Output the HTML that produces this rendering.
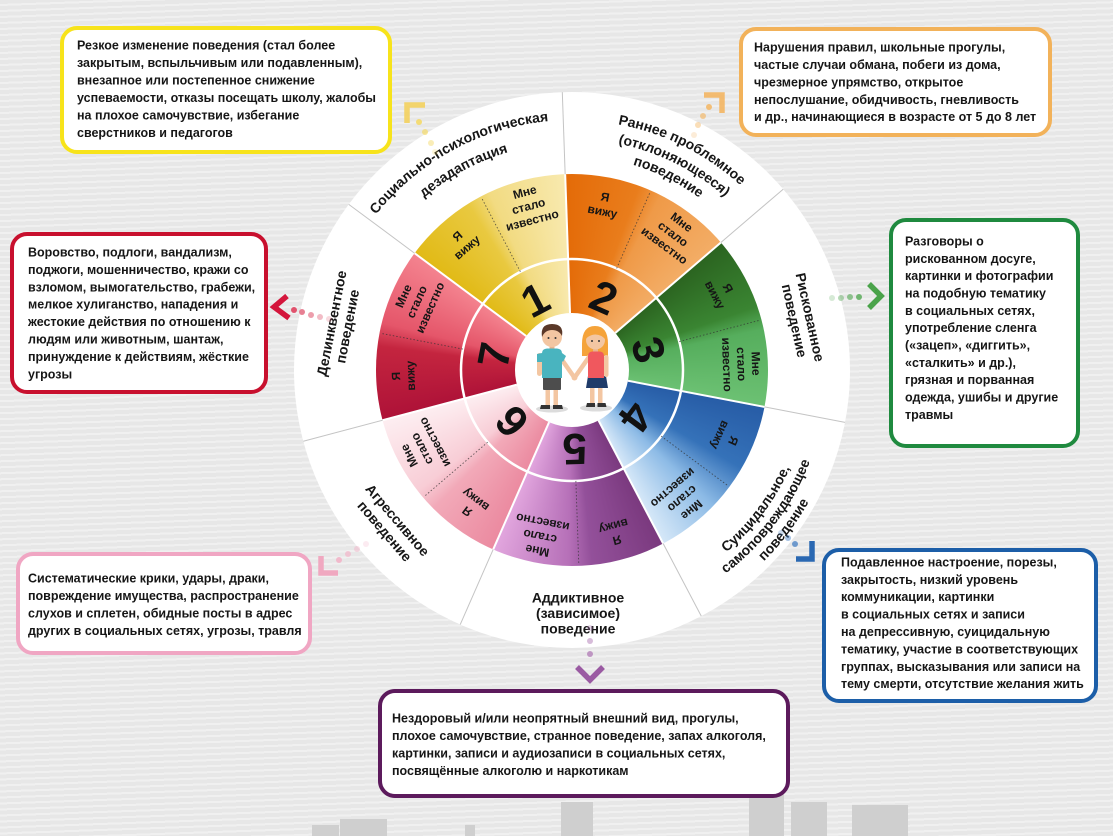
<!DOCTYPE html>
<html><head><meta charset="utf-8">
<style>
html,body{margin:0;padding:0;}
body{width:1113px;height:836px;overflow:hidden;position:relative;
background:repeating-linear-gradient(178deg,#e7e7e7 0px,#e7e7e7 4px,#f0f0f0 4px,#f0f0f0 6px);}
#outer{position:absolute;left:294px;top:92px;width:556px;height:556px;border-radius:50%;background:#fff;}
#ring{position:absolute;left:376px;top:174px;width:392px;height:392px;border-radius:50%;
background:conic-gradient(from -2deg at 50% 50%,
 #e46b08 0deg,#e97d1c 22deg,#ef9a48 29deg,#f3ad66 51.43deg,
 #2b6420 51.43deg,#3a8532 73deg,#56ae5d 80deg,#6cc173 102.86deg,
 #275ca6 102.86deg,#3572b9 122deg,#8dbbe6 136deg,#d6e8f8 154.29deg,
 #7a397e 154.29deg,#93509a 176deg,#b670b8 183deg,#e2a6de 205.71deg,
 #eb8aa0 205.71deg,#f2a9b8 227deg,#f8cdd6 234deg,#fdeef1 257.14deg,
 #ae1238 257.14deg,#c4253f 279deg,#e5566a 286deg,#f4838f 308.57deg,
 #e1ba16 308.57deg,#e9c940 330deg,#f2db82 337deg,#f8e9ae 360deg);}
svg{position:absolute;left:0;top:0;}
text{font-family:"Liberation Sans",Arial,sans-serif;font-weight:bold;fill:#161616;}
.bx{font-size:12.5px;}
.ol{font-size:14px;}
.il{font-size:12px;text-anchor:middle;}
.num{font-size:44px;text-anchor:middle;fill:#111;}
</style></head>
<body>
<div id="outer"></div>
<div id="ring"></div>
<svg width="1113" height="836" viewBox="0 0 1113 836" xmlns="http://www.w3.org/2000/svg">
<defs>
 <path id="aT250" d="M 355.49 245 A 250 250 0 0 1 788.51 245"/>
 <path id="aT227" d="M 375.41 256.5 A 227 227 0 0 1 768.59 256.5"/>
 <path id="aT231" d="M 371.95 254.5 A 231 231 0 0 1 772.05 254.5"/>
 <path id="aT214" d="M 386.67 263 A 214 214 0 0 1 757.33 263"/>
 <path id="aB239" d="M 365.02 489.5 A 239 239 0 0 0 778.98 489.5"/>
 <path id="aB255" d="M 351.16 497.5 A 255 255 0 0 0 792.84 497.5"/>
 <path id="aB271" d="M 337.31 505.5 A 271 271 0 0 0 806.69 505.5"/>
</defs>

<!-- buildings -->
<g fill="#cfcfcf">
 <rect x="312" y="825" width="27" height="11"/>
 <rect x="340" y="819" width="47" height="17"/>
 <rect x="465" y="825" width="10" height="11"/>
 <rect x="561" y="802" width="32" height="34"/>
 <rect x="749" y="780" width="35" height="56"/>
 <rect x="791" y="802" width="36" height="34"/>
 <rect x="852" y="805" width="56" height="31"/>
</g>

<!-- center white circle and ring line -->
<circle cx="572" cy="370" r="111" fill="none" stroke="#fff" stroke-width="2.5"/>
<g stroke="#fff" stroke-width="2">
 <line x1="572" y1="313" x2="572" y2="174" transform="rotate(-2 572 370)"/>
 <line x1="572" y1="313" x2="572" y2="174" transform="rotate(49.43 572 370)"/>
 <line x1="572" y1="313" x2="572" y2="174" transform="rotate(100.86 572 370)"/>
 <line x1="572" y1="313" x2="572" y2="174" transform="rotate(152.29 572 370)"/>
 <line x1="572" y1="313" x2="572" y2="174" transform="rotate(203.71 572 370)"/>
 <line x1="572" y1="313" x2="572" y2="174" transform="rotate(255.14 572 370)"/>
 <line x1="572" y1="313" x2="572" y2="174" transform="rotate(306.57 572 370)"/>
</g>
<g stroke="#c4c4c4" stroke-width="1">
 <line x1="572" y1="174" x2="572" y2="92" transform="rotate(-2 572 370)"/>
 <line x1="572" y1="174" x2="572" y2="92" transform="rotate(49.43 572 370)"/>
 <line x1="572" y1="174" x2="572" y2="92" transform="rotate(100.86 572 370)"/>
 <line x1="572" y1="174" x2="572" y2="92" transform="rotate(152.29 572 370)"/>
 <line x1="572" y1="174" x2="572" y2="92" transform="rotate(203.71 572 370)"/>
 <line x1="572" y1="174" x2="572" y2="92" transform="rotate(255.14 572 370)"/>
 <line x1="572" y1="174" x2="572" y2="92" transform="rotate(306.57 572 370)"/>
</g>
<g stroke="#333" stroke-width="0.9" stroke-dasharray="1.5 2" opacity="0.75">
 <line x1="572" y1="259" x2="572" y2="175" transform="rotate(23.71 572 370)"/>
 <line x1="572" y1="259" x2="572" y2="175" transform="rotate(75.14 572 370)"/>
 <line x1="572" y1="259" x2="572" y2="175" transform="rotate(126.57 572 370)"/>
 <line x1="572" y1="259" x2="572" y2="175" transform="rotate(178 572 370)"/>
 <line x1="572" y1="259" x2="572" y2="175" transform="rotate(229.43 572 370)"/>
 <line x1="572" y1="259" x2="572" y2="175" transform="rotate(280.86 572 370)"/>
 <line x1="572" y1="259" x2="572" y2="175" transform="rotate(332.29 572 370)"/>
</g>
<circle cx="572" cy="370" r="57" fill="#fff"/>

<!-- numbers -->
<text class="num" x="572" y="306" transform="rotate(-27.71 572 370)">1</text>
<text class="num" x="572" y="306" transform="rotate(23.71 572 370)">2</text>
<text class="num" x="572" y="306" transform="rotate(75.14 572 370)">3</text>
<text class="num" x="572" y="306" transform="rotate(126.57 572 370)">4</text>
<text class="num" x="572" y="306" transform="rotate(178 572 370)">5</text>
<text class="num" x="572" y="306" transform="rotate(229.43 572 370)">6</text>
<text class="num" x="572" y="306" transform="rotate(280.86 572 370)">7</text>

<!-- inner labels: Я вижу -->
<g class="il">
 <text class="il" transform="rotate(-40.57 572 370)"><tspan x="572" y="198">Я</tspan><tspan x="572" y="212.5">вижу</tspan></text>
 <text class="il" transform="rotate(10.86 572 370)"><tspan x="572" y="198">Я</tspan><tspan x="572" y="212.5">вижу</tspan></text>
 <text class="il" transform="rotate(62.29 572 370)"><tspan x="572" y="198">Я</tspan><tspan x="572" y="212.5">вижу</tspan></text>
 <text class="il" transform="rotate(113.71 572 370)"><tspan x="572" y="198">Я</tspan><tspan x="572" y="212.5">вижу</tspan></text>
 <text class="il" transform="rotate(165.14 572 370)"><tspan x="572" y="198">Я</tspan><tspan x="572" y="212.5">вижу</tspan></text>
 <text class="il" transform="rotate(216.57 572 370)"><tspan x="572" y="198">Я</tspan><tspan x="572" y="212.5">вижу</tspan></text>
 <text class="il" transform="rotate(268 572 370)"><tspan x="572" y="198">Я</tspan><tspan x="572" y="212.5">вижу</tspan></text>
</g>
<!-- inner labels: Мне стало известно -->
<g>
 <text class="il" transform="rotate(-14.86 572 370)"><tspan x="572" y="190">Мне</tspan><tspan x="572" y="204.5">стало</tspan><tspan x="572" y="219">известно</tspan></text>
 <text class="il" transform="rotate(36.57 572 370)"><tspan x="572" y="190">Мне</tspan><tspan x="572" y="204.5">стало</tspan><tspan x="572" y="219">известно</tspan></text>
 <text class="il" transform="rotate(88 572 370)"><tspan x="572" y="190">Мне</tspan><tspan x="572" y="204.5">стало</tspan><tspan x="572" y="219">известно</tspan></text>
 <text class="il" transform="rotate(139.43 572 370)"><tspan x="572" y="190">Мне</tspan><tspan x="572" y="204.5">стало</tspan><tspan x="572" y="219">известно</tspan></text>
 <text class="il" transform="rotate(190.86 572 370)"><tspan x="572" y="190">Мне</tspan><tspan x="572" y="204.5">стало</tspan><tspan x="572" y="219">известно</tspan></text>
 <text class="il" transform="rotate(242.29 572 370)"><tspan x="572" y="190">Мне</tspan><tspan x="572" y="204.5">стало</tspan><tspan x="572" y="219">известно</tspan></text>
 <text class="il" transform="rotate(293.71 572 370)"><tspan x="572" y="190">Мне</tspan><tspan x="572" y="204.5">стало</tspan><tspan x="572" y="219">известно</tspan></text>
</g>

<!-- outer labels -->
<g transform="rotate(-28.5 572 370)">
 <text class="ol" text-anchor="middle"><textPath href="#aT250" startOffset="50%">Социально-психологическая</textPath></text>
 <text class="ol" text-anchor="middle"><textPath href="#aT227" startOffset="50%">дезадаптация</textPath></text>
</g>
<g transform="rotate(26.5 572 370)">
 <text class="ol" text-anchor="middle"><textPath href="#aT250" startOffset="50%">Раннее проблемное</textPath></text>
 <text class="ol" text-anchor="middle"><textPath href="#aT231" startOffset="50%">(отклоняющееся)</textPath></text>
 <text class="ol" text-anchor="middle"><textPath href="#aT214" startOffset="50%">поведение</textPath></text>
</g>
<g transform="rotate(77.5 572 370)">
 <text class="ol" x="572" y="131" text-anchor="middle">Рискованное</text>
 <text class="ol" x="572" y="147" text-anchor="middle">поведение</text>
</g>
<g transform="rotate(-53 572 370)">
 <text class="ol" text-anchor="middle"><textPath href="#aB239" startOffset="50%">Суицидальное,</textPath></text>
 <text class="ol" text-anchor="middle"><textPath href="#aB255" startOffset="50%">самоповреждающее</textPath></text>
 <text class="ol" text-anchor="middle"><textPath href="#aB271" startOffset="50%">поведение</textPath></text>
</g>
<g>
 <text class="ol" x="578" y="602.5" text-anchor="middle">Аддиктивное</text>
 <text class="ol" x="578" y="618" text-anchor="middle">(зависимое)</text>
 <text class="ol" x="578" y="633.5" text-anchor="middle">поведение</text>
</g>
<g transform="rotate(49.3 572 370)">
 <text class="ol" x="572" y="605" text-anchor="middle">Агрессивное</text>
 <text class="ol" x="572" y="622" text-anchor="middle">поведение</text>
</g>
<g transform="rotate(281 572 370)">
 <text class="ol" x="572" y="130" text-anchor="middle">Делинквентное</text>
 <text class="ol" x="572" y="146" text-anchor="middle">поведение</text>
</g>

<!-- kids -->
<g>
 <ellipse cx="552" cy="409" rx="16" ry="3.5" fill="#dcdcdc"/>
 <ellipse cx="596" cy="408" rx="16" ry="3.5" fill="#dcdcdc"/>
 <!-- boy -->
 <rect x="545.5" y="388" width="4.5" height="18" fill="#f3c6a2"/>
 <rect x="553.5" y="388" width="4.5" height="18" fill="#f3c6a2"/>
 <path d="M541 405 h9 v4 h-10 z" fill="#333"/>
 <path d="M553 405 h9 l1 4 h-10 z" fill="#333"/>
 <rect x="543" y="376" width="18" height="14" rx="1" fill="#4d4d4d"/>
 <rect x="537" y="353" width="5" height="23" rx="2.5" fill="#f3c6a2"/>
 <path d="M560 357 L574 377" stroke="#f3c6a2" stroke-width="4.5" stroke-linecap="round"/>
 <rect x="549.5" y="344" width="5" height="7" fill="#e8b48e"/>
 <path d="M542 353 q0-4 5-4.5 h10 q5 0.5 5 4.5 v25 h-20 z" fill="#49b4bf"/>
 <path d="M542 353 l-5 1 v8 h5 z" fill="#49b4bf"/>
 <path d="M562 353 l4 3 l-3 6 l-1 -1 z" fill="#49b4bf"/>
 <circle cx="552" cy="337" r="10" fill="#f3c6a2"/>
 <path d="M542 337 q-2-13 10-13 q12 0 10 12 q-3-6-10-6 q-7 0-10 7z" fill="#5a3828"/>
 <circle cx="548.5" cy="338" r="1" fill="#333"/>
 <circle cx="555.5" cy="338" r="1" fill="#333"/>
 <!-- girl -->
 <path d="M582 344 q0-18 13-18 q13 0 13 18 v12 h-26 z" fill="#f5a33a"/>
 <rect x="590" y="384" width="4.5" height="20" fill="#f3c6a2"/>
 <rect x="598" y="384" width="4.5" height="20" fill="#f3c6a2"/>
 <path d="M587 403 h8 v4 h-9 z" fill="#333"/>
 <path d="M597.5 403 h8 l1 4 h-9 z" fill="#333"/>
 <path d="M588 376 h18 l2 12 h-22 z" fill="#1f3b69"/>
 <path d="M589 357 L575 377" stroke="#f3c6a2" stroke-width="4.5" stroke-linecap="round"/>
 <rect x="604" y="355" width="4.5" height="22" rx="2.2" fill="#f3c6a2"/>
 <rect x="593" y="347" width="5" height="7" fill="#e8b48e"/>
 <path d="M588 356 q0-4 4-4.5 h8 q4 0.5 4 4.5 v22 h-16 z" fill="#f0585e"/>
 <circle cx="595.5" cy="340" r="9.5" fill="#f3c6a2"/>
 <path d="M585 340 q0-12 10.5-12 q10.5 0 10.5 12 q-6-7-14-5 q-4 1-7 5z" fill="#f5a33a"/>
 <circle cx="592" cy="341" r="1" fill="#333"/>
 <circle cx="599" cy="341" r="1" fill="#333"/>
 <circle cx="574.5" cy="377.5" r="3" fill="#f3c6a2"/>
</g>

<!-- arrows -->
<g>
 <!-- yellow -->
 <circle cx="435" cy="152" r="3" fill="#f5d860" opacity="0.25"/>
 <circle cx="431" cy="143" r="3" fill="#f5d860" opacity="0.45"/>
 <circle cx="425" cy="132" r="3" fill="#f5d860" opacity="0.65"/>
 <circle cx="419" cy="122" r="3" fill="#f5d860" opacity="0.85"/>
 <polyline points="425,105 407,105 407,123" fill="none" stroke="#f3cf55" stroke-width="5.5" opacity="0.85"/>
 <!-- orange -->
 <circle cx="694" cy="135" r="3" fill="#f3b562" opacity="0.25"/>
 <circle cx="698" cy="125" r="3" fill="#f3b562" opacity="0.45"/>
 <circle cx="703" cy="116" r="3" fill="#f3b562" opacity="0.65"/>
 <circle cx="709" cy="107" r="3" fill="#f3b562" opacity="0.85"/>
 <polyline points="704,95 722,95 722,113" fill="none" stroke="#f3b562" stroke-width="5.5" opacity="0.9"/>
 <!-- red -->
 <circle cx="329" cy="319" r="3" fill="#e36a80" opacity="0.25"/>
 <circle cx="320" cy="317" r="3" fill="#e36a80" opacity="0.45"/>
 <circle cx="311" cy="315" r="3" fill="#e36a80" opacity="0.65"/>
 <circle cx="302" cy="312" r="3" fill="#e36a80" opacity="0.85"/>
 <circle cx="294" cy="310" r="3" fill="#e04a66" opacity="0.95"/>
 <polyline points="287,296 274,307 289,318" fill="none" stroke="#d4163c" stroke-width="5.5"/>
 <!-- green -->
 <circle cx="832" cy="298" r="3" fill="#5aab5a" opacity="0.25"/>
 <circle cx="841" cy="298" r="3" fill="#5aab5a" opacity="0.45"/>
 <circle cx="850" cy="297" r="3" fill="#5aab5a" opacity="0.65"/>
 <circle cx="859" cy="297" r="3" fill="#5aab5a" opacity="0.85"/>
 <polyline points="869,284 881,296 869,308" fill="none" stroke="#4aa34a" stroke-width="5.5"/>
 <!-- blue -->
 <circle cx="781" cy="533" r="3" fill="#3a78c0" opacity="0.25"/>
 <circle cx="788" cy="538" r="3" fill="#3a78c0" opacity="0.45"/>
 <circle cx="795" cy="544" r="3" fill="#3a78c0" opacity="0.7"/>
 <polyline points="812,541 812,559 796,559" fill="none" stroke="#2a68b2" stroke-width="5.5"/>
 <!-- pink -->
 <circle cx="366" cy="544" r="3" fill="#f2b0c6" opacity="0.25"/>
 <circle cx="357" cy="549" r="3" fill="#f2b0c6" opacity="0.45"/>
 <circle cx="348" cy="554" r="3" fill="#f2b0c6" opacity="0.65"/>
 <circle cx="339" cy="560" r="3" fill="#f2b0c6" opacity="0.85"/>
 <polyline points="321,556 321,573 338,573" fill="none" stroke="#f0a8c0" stroke-width="5.5"/>
 <!-- purple -->
 <circle cx="590" cy="628" r="3" fill="#b07ab6" opacity="0.3"/>
 <circle cx="590" cy="641" r="3" fill="#b07ab6" opacity="0.5"/>
 <circle cx="590" cy="654" r="3" fill="#b07ab6" opacity="0.75"/>
 <polyline points="577,667 590,680 603,667" fill="none" stroke="#9a5aa2" stroke-width="5.5"/>
</g>

<!-- boxes -->
<g fill="#fff" stroke-width="4">
 <rect x="62" y="28" width="328" height="124" rx="15" stroke="#f7e31b"/>
 <rect x="741" y="29" width="309" height="106" rx="15" stroke="#f2b25a"/>
 <rect x="12" y="234" width="254" height="158" rx="15" stroke="#c8102e"/>
 <rect x="891" y="220" width="187" height="226" rx="15" stroke="#1f8a3f"/>
 <rect x="824" y="550" width="272" height="151" rx="15" stroke="#1c5ea8"/>
 <rect x="18" y="554" width="292" height="99" rx="15" stroke="#f0a6c3"/>
 <rect x="380" y="691" width="408" height="105" rx="15" stroke="#5c1a5c"/>
</g>

<g class="bx">
 <text class="bx" x="77" y="49.5">Резкое изменение поведения (стал более</text>
 <text class="bx" x="77" y="67">закрытым, вспыльчивым или подавленным),</text>
 <text class="bx" x="77" y="84.5">внезапное или постепенное снижение</text>
 <text class="bx" x="77" y="102">успеваемости, отказы посещать школу, жалобы</text>
 <text class="bx" x="77" y="119.5">на плохое самочувствие, избегание</text>
 <text class="bx" x="77" y="137">сверстников и педагогов</text>

 <text class="bx" x="754" y="51.5">Нарушения правил, школьные прогулы,</text>
 <text class="bx" x="754" y="69">частые случаи обмана, побеги из дома,</text>
 <text class="bx" x="754" y="86.5">чрезмерное упрямство, открытое</text>
 <text class="bx" x="754" y="104">непослушание, обидчивость, гневливость</text>
 <text class="bx" x="754" y="121">и др., начинающиеся в возрасте от 5 до 8 лет</text>

 <text class="bx" x="28" y="256.5">Воровство, подлоги, вандализм,</text>
 <text class="bx" x="28" y="274">поджоги, мошенничество, кражи со</text>
 <text class="bx" x="28" y="291.3">взломом, вымогательство, грабежи,</text>
 <text class="bx" x="28" y="308.7">мелкое хулиганство, нападения и</text>
 <text class="bx" x="28" y="326">жестокие действия по отношению к</text>
 <text class="bx" x="28" y="343.5">людям или животным, шантаж,</text>
 <text class="bx" x="28" y="361">принуждение к действиям, жёсткие</text>
 <text class="bx" x="28" y="378.3">угрозы</text>

 <text class="bx" x="905" y="245.5">Разговоры о</text>
 <text class="bx" x="905" y="263">рискованном досуге,</text>
 <text class="bx" x="905" y="280">картинки и фотографии</text>
 <text class="bx" x="905" y="297.5">на подобную тематику</text>
 <text class="bx" x="905" y="315">в социальных сетях,</text>
 <text class="bx" x="905" y="332">употребление сленга</text>
 <text class="bx" x="905" y="349.5">(«зацеп», «диггить»,</text>
 <text class="bx" x="905" y="367">«сталкить» и др.),</text>
 <text class="bx" x="905" y="384">грязная и порванная</text>
 <text class="bx" x="905" y="401.5">одежда, ушибы и другие</text>
 <text class="bx" x="905" y="419">травмы</text>

 <text class="bx" x="841" y="566.5">Подавленное настроение, порезы,</text>
 <text class="bx" x="841" y="584">закрытость, низкий уровень</text>
 <text class="bx" x="841" y="601">коммуникации, картинки</text>
 <text class="bx" x="841" y="618.5">в социальных сетях и записи</text>
 <text class="bx" x="841" y="636">на депрессивную, суицидальную</text>
 <text class="bx" x="841" y="653.5">тематику, участие в соответствующих</text>
 <text class="bx" x="841" y="671">группах, высказывания или записи на</text>
 <text class="bx" x="841" y="688">тему смерти, отсутствие желания жить</text>

 <text class="bx" x="28" y="582.5">Систематические крики, удары, драки,</text>
 <text class="bx" x="28" y="600">повреждение имущества, распространение</text>
 <text class="bx" x="28" y="617.5">слухов и сплетен, обидные посты в адрес</text>
 <text class="bx" x="28" y="635">других в социальных сетях, угрозы, травля</text>

 <text class="bx" x="392" y="722.5">Нездоровый и/или неопрятный внешний вид, прогулы,</text>
 <text class="bx" x="392" y="740">плохое самочувствие, странное поведение, запах алкоголя,</text>
 <text class="bx" x="392" y="757.5">картинки, записи и аудиозаписи в социальных сетях,</text>
 <text class="bx" x="392" y="775">посвящённые алкоголю и наркотикам</text>
</g>
</svg>
</body></html>
